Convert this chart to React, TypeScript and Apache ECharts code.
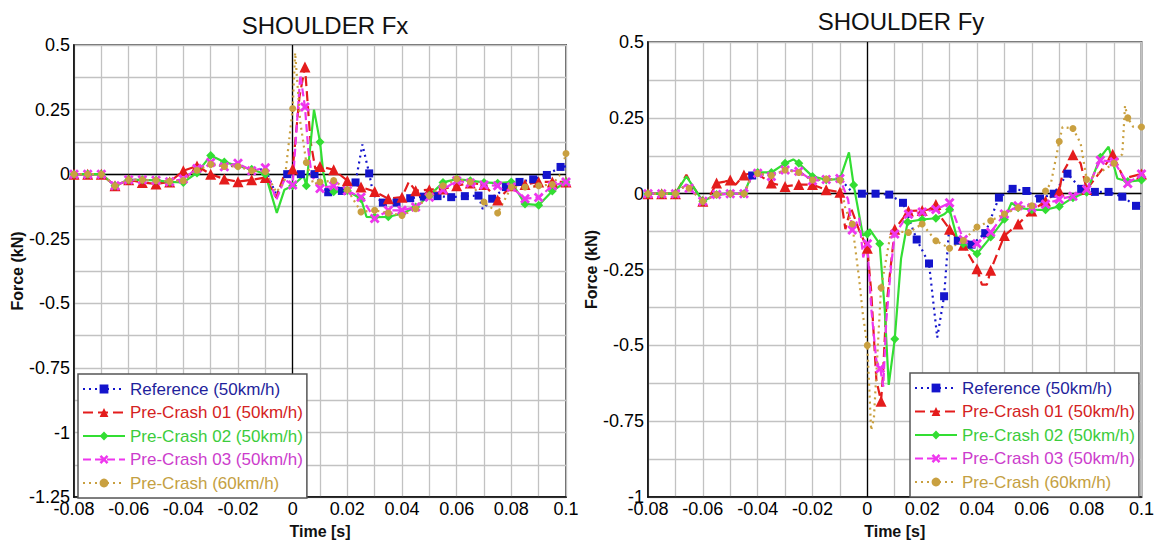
import React, { useEffect, useRef } from 'react';
import * as echarts from 'echarts';

const seriesNames = [
  'Reference (50km/h)',
  'Pre-Crash 01 (50km/h)',
  'Pre-Crash 02 (50km/h)',
  'Pre-Crash 03 (50km/h)',
  'Pre-Crash (60km/h)',
];
const chartTitles = ['SHOULDER Fx', 'SHOULDER Fy'];
const xAxisName = 'Time [s]';
const yAxisName = 'Force (kN)';
const xRange = [-0.08, 0.1];
const yRangeFx = [-1.25, 0.5];
const yRangeFy = [-1, 0.5];

// ---- SHOULDER Fx ----
const refFx = [
  [-0.08, 0], [-0.075, 0], [-0.07, 0], [-0.065, -0.045], [-0.06, -0.022], [-0.055, -0.022], [-0.05, -0.024],
  [-0.045, -0.028], [-0.04, -0.025], [-0.035, 0.02], [-0.03, 0.04], [-0.025, 0.03], [-0.02, 0.035], [-0.015, 0.015],
  [-0.01, 0.02], [-0.006, -0.08], [-0.002, 0.0], [0.003, 0], [0.008, 0], [0.013, -0.07], [0.018, -0.065],
  [0.023, -0.032], [0.0255, 0.115], [0.028, 0.003], [0.0295, -0.08], [0.033, -0.11], [0.038, -0.11], [0.043, -0.093],
  [0.048, -0.087], [0.053, -0.085], [0.058, -0.089], [0.063, -0.085], [0.068, -0.083], [0.0695, -0.135],
  [0.073, -0.095], [0.078, -0.05], [0.083, -0.03], [0.088, -0.02], [0.093, -0.003], [0.098, 0.028], [0.1, 0.03],
];
const pc01Fx = [
  [-0.08, 0], [-0.075, 0], [-0.07, 0], [-0.065, -0.045], [-0.06, -0.022], [-0.055, -0.032], [-0.05, -0.038],
  [-0.045, -0.03], [-0.04, 0.013], [-0.035, 0.032], [-0.03, 0.0], [-0.025, -0.019], [-0.02, -0.029], [-0.015, -0.022],
  [-0.01, -0.013], [-0.006, -0.09], [-0.003, 0.0], [0.0, 0.02], [0.0025, 0.3], [0.0045, 0.415], [0.0065, 0.13],
  [0.0083, 0.02], [0.01, 0.03], [0.015, 0.017], [0.02, -0.025], [0.025, -0.05], [0.03, -0.067], [0.035, -0.095],
  [0.04, -0.089], [0.0425, -0.03], [0.045, -0.064], [0.05, -0.06], [0.055, -0.057], [0.06, -0.045], [0.065, -0.034],
  [0.07, -0.04], [0.075, -0.1], [0.08, -0.045], [0.085, -0.04], [0.09, -0.03], [0.095, -0.03], [0.1, -0.03],
];
const pc02Fx = [
  [-0.08, 0], [-0.075, 0], [-0.07, 0], [-0.065, -0.045], [-0.06, -0.022], [-0.055, -0.022], [-0.05, -0.024],
  [-0.045, -0.03], [-0.04, -0.032], [-0.035, 0.005], [-0.03, 0.072], [-0.025, 0.047], [-0.02, 0.032], [-0.015, 0.019],
  [-0.01, 0.0], [-0.0058, -0.15], [-0.003, -0.06], [0.0, -0.045], [0.004, -0.006], [0.005, -0.045], [0.0078, 0.25],
  [0.01, 0.125], [0.0112, 0.006], [0.0127, -0.064], [0.015, -0.068], [0.02, -0.064], [0.025, -0.095], [0.027, -0.165],
  [0.03, -0.166], [0.035, -0.165], [0.04, -0.153], [0.045, -0.127], [0.05, -0.083], [0.055, -0.032], [0.06, -0.019],
  [0.065, -0.025], [0.07, -0.032], [0.075, -0.035], [0.08, -0.03], [0.085, -0.115], [0.09, -0.12], [0.095, -0.065],
  [0.1, -0.03],
];
const pc03Fx = [
  [-0.08, 0], [-0.075, 0], [-0.07, 0], [-0.065, -0.045], [-0.06, -0.022], [-0.055, -0.022], [-0.05, -0.024],
  [-0.045, -0.029], [-0.04, -0.019], [-0.035, 0.022], [-0.03, 0.045], [-0.025, 0.029], [-0.02, 0.042], [-0.015, 0.013],
  [-0.01, 0.025], [-0.006, -0.1], [-0.003, -0.02], [0.0, -0.042], [0.0028, 0.385], [0.0045, 0.26], [0.0057, 0.095],
  [0.007, -0.006], [0.01, -0.055], [0.015, -0.045], [0.02, -0.064], [0.025, -0.089], [0.03, -0.172], [0.035, -0.14],
  [0.04, -0.14], [0.045, -0.127], [0.05, -0.089], [0.055, -0.06], [0.06, -0.025], [0.065, -0.034], [0.07, -0.042],
  [0.075, -0.045], [0.08, -0.05], [0.085, -0.095], [0.09, -0.09], [0.095, -0.045], [0.1, -0.03],
];
const pc60Fx = [
  [-0.08, 0], [-0.075, 0], [-0.07, 0], [-0.065, -0.045], [-0.06, -0.022], [-0.055, -0.022], [-0.05, -0.024],
  [-0.045, -0.028], [-0.04, -0.025], [-0.035, 0.015], [-0.03, 0.038], [-0.025, 0.03], [-0.02, 0.03], [-0.015, 0.013],
  [-0.01, 0.01], [-0.006, -0.07], [-0.003, -0.03], [0.0, 0.254], [0.0009, 0.47], [0.0028, 0.2], [0.005, 0.045],
  [0.0076, -0.04], [0.01, -0.03], [0.015, -0.025], [0.02, -0.06], [0.025, -0.146], [0.03, -0.14], [0.035, -0.15],
  [0.04, -0.16], [0.045, -0.134], [0.05, -0.083], [0.055, -0.045], [0.06, -0.019], [0.065, -0.03], [0.07, -0.108],
  [0.075, -0.15], [0.08, -0.05], [0.085, -0.05], [0.09, -0.045], [0.095, -0.04], [0.098, 0.0], [0.1, 0.08],
];

// ---- SHOULDER Fy ----
const refFy = [
  [-0.08, 0], [-0.075, 0], [-0.07, 0], [-0.066, 0.03], [-0.064, 0.018], [-0.06, -0.025], [-0.055, -0.003],
  [-0.05, 0], [-0.045, 0], [-0.042, 0.06], [-0.04, 0.067], [-0.035, 0.06], [-0.03, 0.078], [-0.025, 0.074],
  [-0.02, 0.043], [-0.015, 0.047], [-0.01, 0.05], [-0.006, 0.01], [-0.002, 0], [0.003, 0], [0.008, -0.003],
  [0.013, -0.03], [0.018, -0.151], [0.0225, -0.23], [0.0255, -0.474], [0.028, -0.338], [0.0298, -0.117],
  [0.033, -0.155], [0.038, -0.168], [0.043, -0.13], [0.048, -0.013], [0.053, 0.016], [0.058, 0.009], [0.063, -0.016],
  [0.068, 0.0], [0.073, 0.066], [0.078, 0.016], [0.083, 0.006], [0.088, 0.006], [0.093, -0.01], [0.098, -0.04],
  [0.1, -0.045],
];
const pc01Fy = [
  [-0.08, 0], [-0.075, 0], [-0.07, 0], [-0.066, 0.062], [-0.064, 0.03], [-0.06, -0.025], [-0.057, 0.0],
  [-0.055, 0.035], [-0.052, 0.04], [-0.05, 0.045], [-0.048, 0.03], [-0.045, 0.062], [-0.041, 0.07], [-0.035, 0.035],
  [-0.03, 0.024], [-0.025, 0.03], [-0.02, 0.03], [-0.015, 0.013], [-0.01, 0.005], [-0.008, -0.117], [-0.006, -0.046],
  [-0.003, -0.12], [0.0, -0.18], [0.0014, -0.32], [0.0033, -0.614], [0.005, -0.684], [0.0057, -0.6], [0.0069, -0.376],
  [0.01, -0.117], [0.015, -0.057], [0.02, -0.055], [0.0225, -0.052], [0.025, -0.036], [0.027, -0.079], [0.03, -0.117],
  [0.0328, -0.149], [0.035, -0.17], [0.04, -0.247], [0.0418, -0.3], [0.0436, -0.3], [0.045, -0.252], [0.05, -0.138],
  [0.055, -0.1], [0.06, -0.057], [0.065, -0.024], [0.07, 0.009], [0.0712, 0.068], [0.075, 0.128], [0.0778, 0.1],
  [0.08, 0.014], [0.0865, 0.09], [0.0895, 0.13], [0.0935, 0.05], [0.1, 0.065],
];
const pc02Fy = [
  [-0.08, 0], [-0.075, 0], [-0.07, 0], [-0.066, 0.057], [-0.064, 0.03], [-0.06, -0.025], [-0.055, -0.003],
  [-0.05, 0], [-0.045, 0], [-0.042, 0.065], [-0.04, 0.07], [-0.035, 0.07], [-0.03, 0.1], [-0.027, 0.113],
  [-0.025, 0.1], [-0.02, 0.057], [-0.015, 0.046], [-0.01, 0.048], [-0.0067, 0.136], [-0.005, 0.029],
  [-0.0016, -0.138], [0.0, -0.133], [0.0008, -0.117], [0.0045, -0.165], [0.0063, -0.376], [0.0078, -0.63],
  [0.01, -0.479], [0.0123, -0.214], [0.0147, -0.093], [0.02, -0.085], [0.025, -0.081], [0.028, -0.068],
  [0.03, -0.052], [0.0328, -0.149], [0.035, -0.165], [0.04, -0.198], [0.045, -0.143], [0.05, -0.084],
  [0.0526, -0.03], [0.055, -0.046], [0.06, -0.053], [0.065, -0.053], [0.07, -0.042], [0.075, -0.013], [0.08, 0.005],
  [0.085, 0.12], [0.088, 0.155], [0.0912, 0.05], [0.095, 0.04], [0.1, 0.045],
];
const pc03Fy = [
  [-0.08, 0], [-0.075, 0], [-0.07, 0], [-0.066, 0.03], [-0.065, 0.018], [-0.06, -0.025], [-0.055, -0.003],
  [-0.05, 0], [-0.045, 0], [-0.042, 0.06], [-0.04, 0.067], [-0.035, 0.057], [-0.03, 0.078], [-0.025, 0.074],
  [-0.02, 0.043], [-0.015, 0.047], [-0.01, 0.05], [-0.007, -0.02], [-0.0055, -0.12], [-0.003, -0.08],
  [-0.0015, -0.21], [0.0, -0.165], [0.0014, -0.376], [0.0033, -0.55], [0.0047, -0.576], [0.0058, -0.636],
  [0.0069, -0.42], [0.0087, -0.236], [0.01, -0.133], [0.015, -0.068], [0.02, -0.06], [0.025, -0.052], [0.03, -0.03],
  [0.035, -0.151], [0.04, -0.165], [0.045, -0.127], [0.05, -0.067], [0.055, -0.04], [0.06, -0.046], [0.065, -0.035],
  [0.07, -0.018], [0.075, -0.008], [0.08, 0.014], [0.085, 0.11], [0.09, 0.105], [0.095, 0.034], [0.1, 0.065],
];
const pc60Fy = [
  [-0.08, 0], [-0.075, 0], [-0.07, 0], [-0.066, 0.03], [-0.065, 0.018], [-0.06, -0.025], [-0.055, -0.003],
  [-0.05, 0], [-0.045, 0], [-0.042, 0.06], [-0.04, 0.067], [-0.035, 0.06], [-0.03, 0.078], [-0.025, 0.07],
  [-0.02, 0.045], [-0.015, 0.048], [-0.01, 0.045], [-0.008, -0.05], [-0.0055, -0.1], [-0.003, -0.28],
  [-0.0016, -0.4], [0.0, -0.5], [0.0014, -0.78], [0.0024, -0.74], [0.005, -0.31], [0.0087, -0.122], [0.015, -0.128],
  [0.02, -0.1], [0.025, -0.155], [0.03, -0.18], [0.035, -0.154], [0.04, -0.11], [0.045, -0.089], [0.05, -0.067],
  [0.055, -0.046], [0.06, -0.04], [0.065, 0.009], [0.067, 0.036], [0.07, 0.172], [0.0712, 0.22], [0.075, 0.215],
  [0.0778, 0.166], [0.08, 0.047], [0.083, 0.06], [0.09, 0.1], [0.093, 0.13], [0.094, 0.29], [0.095, 0.25],
  [0.097, 0.22], [0.1, 0.22],
];

const dataFx = [refFx, pc01Fx, pc02Fx, pc03Fx, pc60Fx];
const dataFy = [refFy, pc01Fy, pc02Fy, pc03Fy, pc60Fy];

const FONT = '"Liberation Sans", Arial, Helvetica, sans-serif';
const X_SHAPE = 'path://M2,0 L5,3 L8,0 L10,2 L7,5 L10,8 L8,10 L5,7 L2,10 L0,8 L3,5 L0,2 Z';

const looks = [
  { color: '#1414cc', text: '#1f1f9c', symbol: 'rect', size: 8, type: [2, 4] as any, phase: 0.003 },
  { color: '#e41c1c', text: '#d42222', symbol: 'triangle', size: 11, type: [10, 5] as any, phase: 0 },
  { color: '#33de33', text: '#3ccc3c', symbol: 'diamond', size: 9, type: 'solid' as any, phase: 0 },
  { color: '#ee36ee', text: '#cc3ccc', symbol: X_SHAPE, size: 10, type: [8, 4] as any, phase: 0 },
  { color: '#c9a040', text: '#c4a042', symbol: 'circle', size: 7, type: [2, 4] as any, phase: 0 },
];

const grids = [
  { left: 74, top: 45, width: 492, height: 458 },
  { left: 648, top: 42, width: 499, height: 460 },
];
const titlePos = [
  { left: 320, top: 8 },
  { left: 896, top: 4 },
];
const legendPos = [
  { left: 78, top: 374 },
  { left: 910, top: 373 },
];

function withMarkers(pts: number[][], phase: number) {
  return pts.map(([t, v]) => {
    const k = (t - phase) / 0.005;
    const on = Math.abs(k - Math.round(k)) < 0.12;
    return on ? { value: [t, v] } : { value: [t, v], symbol: 'none' };
  });
}

export default function App() {
  const ref = useRef<HTMLDivElement>(null);
  useEffect(() => {
    if (!ref.current) return;
    const chart = echarts.init(ref.current, null, { renderer: 'svg' });
    const gridLine = { show: true, lineStyle: { color: '#c2c2c2', width: 1.3 } };
    const nameStyle = { fontSize: 16, fontWeight: 'bold', color: '#111', fontFamily: FONT };
    const xAxes = [0, 1].map((g) => ({
      gridIndex: g,
      type: 'value',
      min: xRange[0],
      max: xRange[1],
      interval: 0.02,
      axisLine: { onZero: false, lineStyle: { color: '#000', width: 1.5 } },
      axisTick: { show: false },
      axisLabel: { fontSize: 18, color: '#000', fontFamily: FONT, margin: 3 },
      splitLine: gridLine,
      minorTick: { show: false, splitNumber: 2 },
      minorSplitLine: gridLine,
      name: xAxisName,
      nameLocation: 'middle',
      nameGap: 22,
      nameTextStyle: nameStyle,
    }));
    const yRanges = [yRangeFx, yRangeFy];
    const yAxes = [0, 1].map((g) => ({
      gridIndex: g,
      type: 'value',
      min: yRanges[g][0],
      max: yRanges[g][1],
      interval: 0.25,
      axisLine: { onZero: false, lineStyle: { color: '#000', width: 1.5 } },
      axisTick: { show: false },
      axisLabel: { fontSize: 18, color: '#000', fontFamily: FONT, margin: 4 },
      splitLine: gridLine,
      minorTick: { show: false, splitNumber: 2 },
      minorSplitLine: gridLine,
      name: yAxisName,
      nameLocation: 'middle',
      nameRotate: 90,
      nameGap: [45, 46][g],
      nameTextStyle: nameStyle,
    }));
    const allData = [dataFx, dataFy];
    const series: any[] = [];
    [0, 1].forEach((g) => {
      seriesNames.forEach((name, k) => {
        const lk = looks[k];
        const s: any = {
          type: 'line',
          name,
          xAxisIndex: g,
          yAxisIndex: g,
          data: withMarkers(allData[g][k], lk.phase),
          symbol: lk.symbol,
          symbolSize: lk.size,
          showSymbol: true,
          showAllSymbol: true,
          lineStyle: { color: lk.color, width: 2.2, type: lk.type },
          itemStyle: { color: lk.color },
          emphasis: { disabled: true },
        };
        if (k === 0) {
          s.markLine = {
            silent: true,
            symbol: ['none', 'none'],
            z: 1,
            label: { show: false },
            lineStyle: { color: '#000', type: 'solid', width: 1.3 },
            data: [{ xAxis: 0 }, { yAxis: 0 }],
          };
        }
        series.push(s);
      });
    });
    chart.setOption({
      animation: false,
      backgroundColor: '#fff',
      title: [0, 1].map((g) => ({
        text: chartTitles[g],
        left: titlePos[g].left,
        top: titlePos[g].top,
        textAlign: 'center',
        textStyle: { fontSize: 24, fontWeight: 'normal', color: '#111', fontFamily: FONT },
      })),
      grid: grids.map((gr) => ({
        ...gr,
        show: true,
        borderColor: '#666',
        borderWidth: 2,
        backgroundColor: 'transparent',
      })),
      xAxis: xAxes,
      yAxis: yAxes,
      legend: [0, 1].map((g) => ({
        orient: 'vertical',
        left: legendPos[g].left,
        top: legendPos[g].top,
        itemWidth: 42,
        itemHeight: 11,
        itemGap: 3.5,
        padding: [5, 4, 5, 4],
        backgroundColor: '#fff',
        borderColor: '#555',
        borderWidth: 1.5,
        selectedMode: false,
        textStyle: { fontSize: 17, fontFamily: FONT, lineHeight: 20 },
        data: seriesNames.map((n, k) => ({ name: n, textStyle: { color: looks[k].text } })),
      })),
      series,
    });
    return () => chart.dispose();
  }, []);
  return (
    <div
      ref={ref}
      style={{ position: 'absolute', left: 0, top: 0, width: 1157, height: 544, background: '#fff' }}
    />
  );
}
